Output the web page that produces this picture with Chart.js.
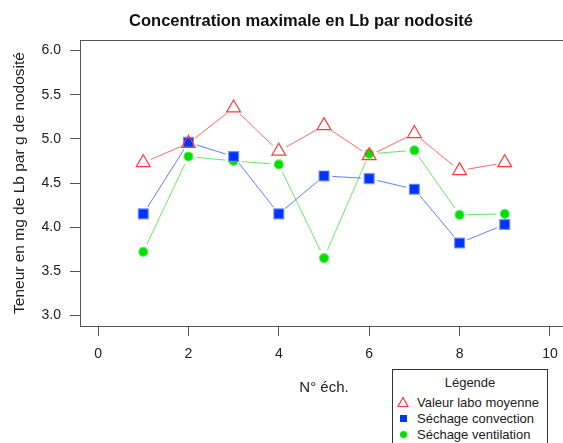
<!DOCTYPE html>
<html lang="fr">
<head>
<meta charset="utf-8">
<title>Concentration maximale en Lb par nodosité</title>
<script src="https://cdn.jsdelivr.net/npm/chart.js@4.4.1/dist/chart.umd.min.js"></script>
<style>
    html, body { margin: 0; padding: 0; background: #fff; overflow: hidden; }
    body { width: 563px; height: 443px; position: relative; font-family: "Liberation Sans", Arial, sans-serif; color: #222; }
    #wrap { position: absolute; left: 0; top: 0; width: 580px; height: 443px; }
    #main-title { position: absolute; left: 0; width: 602px; top: 11px; text-align: center; font-size: 16.5px; font-weight: bold; color: #111; }
    #legend { position: absolute; left: 392px; top: 369px; width: 154px; height: 90px; border: 1px solid #333; background: #fff; font-size: 13px; }
    #legend .head { position: absolute; left: 0; right: 0; top: 5px; text-align: center; }
    #legend .row { position: absolute; left: 4px; height: 15px; line-height: 15px; white-space: nowrap; }
    #legend svg { position: absolute; left: 0; top: 1px; }
    #legend span { position: absolute; left: 20px; top: 0; }
</style>
</head>
<body>
<div id="wrap"><canvas id="lb-chart"></canvas></div>
<div id="main-title">Concentration maximale en Lb par nodosité</div>
<div id="legend">
    <div class="head">Légende</div>
</div>
<script>
// N° d'échantillon
const samples = [1, 2, 3, 4, 5, 6, 7, 8, 9];
// teneurs en mg de Lb par g de nodosité
const laboMoyenne = [4.73, 4.95, 5.35, 4.86, 5.15, 4.81, 5.06, 4.64, 4.73];
const sechageConvection = [4.15, 4.96, 4.80, 4.15, 4.58, 4.55, 4.43, 3.82, 4.03];
const sechageVentilation = [3.72, 4.80, 4.75, 4.71, 3.65, 4.83, 4.87, 4.14, 4.15];

const xTicks = [0, 2, 4, 6, 8, 10];
const yTicks = [3.0, 3.5, 4.0, 4.5, 5.0, 5.5, 6.0];

const seriesNames = ['Valeur labo moyenne', 'Séchage convection', 'Séchage ventilation'];

const axisColor = '#555';
const GAP = 8.5;

const series = [
    {values: laboMoyenne, line: 'rgba(255,40,40,0.7)', shape: 'triangle', radius: 8, fill: 'rgba(0,0,0,0)', border: '#ff3a3a'},
    {values: sechageConvection, line: 'rgba(30,70,255,0.7)', shape: 'rect', radius: 7, fill: '#0033ff', border: 'rgba(110,140,255,0.9)'},
    {values: sechageVentilation, line: 'rgba(40,220,40,0.7)', shape: 'circle', radius: 4.5, fill: '#00e000', border: 'rgba(90,235,90,0.9)'}
];

function toPoints(values) {
    return values.map((v, i) => ({x: samples[i], y: v}));
}

// markers first so they sit above every line, lines afterwards
const datasets = [];
series.forEach((s, i) => {
    datasets.push({
        label: seriesNames[i],
        data: toPoints(s.values),
        showLine: false,
        pointStyle: s.shape,
        pointRadius: s.radius,
        pointBackgroundColor: s.fill,
        pointBorderColor: s.border,
        pointBorderWidth: 1.2
    });
});
series.forEach((s, i) => {
    datasets.push({
        label: seriesNames[i] + ' (ligne)',
        data: toPoints(s.values),
        showLine: true,
        borderColor: s.line,
        borderWidth: 1,
        pointRadius: 0,
        gapLine: true
    });
});

// type "b" : the line stops short of each point
const gapPlugin = {
    id: 'gapPlugin',
    beforeDatasetDraw(chart, args) {
        const ds = chart.data.datasets[args.index];
        if (!ds.gapLine) return;
        const ctx = chart.ctx;
        ctx.save();
        ctx.beginPath();
        ctx.rect(0, 0, chart.width, chart.height);
        args.meta.data.forEach(p => {
            ctx.moveTo(p.x + GAP, p.y);
            ctx.arc(p.x, p.y, GAP, 0, Math.PI * 2);
        });
        ctx.clip('evenodd');
    },
    afterDatasetDraw(chart, args) {
        const ds = chart.data.datasets[args.index];
        if (!ds.gapLine) return;
        chart.ctx.restore();
    }
};

// full frame around the plotting region
const boxPlugin = {
    id: 'boxPlugin',
    afterDraw(chart) {
        const a = chart.chartArea;
        const ctx = chart.ctx;
        ctx.save();
        ctx.strokeStyle = axisColor;
        ctx.lineWidth = 1;
        ctx.strokeRect(Math.round(a.left) + 0.5, Math.round(a.top) + 0.5, a.right - a.left, a.bottom - a.top);
        ctx.restore();
    }
};

Chart.defaults.font.family = '"Liberation Sans", Arial, sans-serif';
Chart.defaults.color = '#222';

const ctx = document.getElementById('lb-chart').getContext('2d');
new Chart(ctx, {
    type: 'scatter',
    data: {datasets: datasets},
    plugins: [gapPlugin, boxPlugin],
    options: {
        responsive: true,
        maintainAspectRatio: false,
        animation: false,
        layout: {padding: {top: 40, right: 12, bottom: 0, left: 0}},
        plugins: {
            legend: {display: false},
            tooltip: {enabled: false},
            title: {display: false}
        },
        scales: {
            x: {
                type: 'linear',
                min: -0.4,
                max: 10.4,
                afterBuildTicks: (scale) => {
                    scale.ticks = xTicks.map(v => ({value: v}));
                },
                afterFit: (scale) => {
                    scale.height = 117;
                },
                grid: {drawOnChartArea: false, drawTicks: true, tickLength: 10, color: axisColor},
                border: {display: true, color: axisColor},
                ticks: {font: {size: 14}, padding: 10, maxRotation: 0, callback: v => String(v)},
                title: {display: true, text: 'N° éch.', font: {size: 15}, padding: {top: 0, bottom: 46}}
            },
            y: {
                type: 'linear',
                min: 2.88,
                max: 6.12,
                afterBuildTicks: (scale) => {
                    scale.ticks = yTicks.map(v => ({value: v}));
                },
                afterFit: (scale) => {
                    scale.width = 80;
                },
                grid: {drawOnChartArea: false, drawTicks: true, tickLength: 10, color: axisColor},
                border: {display: true, color: axisColor},
                ticks: {font: {size: 14}, padding: 9, callback: v => Number(v).toFixed(1)},
                title: {display: true, text: 'Teneur en mg de Lb par g de nodosité', font: {size: 15.5}, padding: {top: 10, bottom: 0}}
            }
        }
    }
});

// légende encadrée sous le graphique
const legendBox = document.getElementById('legend');
const symbols = [
    '<svg width="12" height="12"><polygon points="6,1.5 11,10.5 1,10.5" fill="none" stroke="#ff3a3a" stroke-width="1.2"/></svg>',
    '<svg width="12" height="12"><rect x="3" y="3" width="7" height="7" fill="#0033ff"/></svg>',
    '<svg width="12" height="12"><circle cx="6.5" cy="6.5" r="3.5" fill="#00e000"/></svg>'
];
seriesNames.forEach((name, i) => {
    const row = document.createElement('div');
    row.className = 'row';
    row.style.top = (25 + i * 16) + 'px';
    row.innerHTML = symbols[i] + '<span>' + name + '</span>';
    legendBox.appendChild(row);
});
</script>
</body>
</html>
